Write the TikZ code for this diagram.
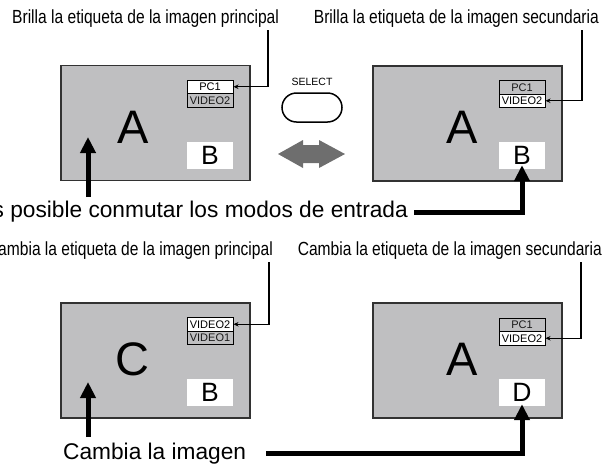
\documentclass[tikz,border=0pt]{standalone}
\usepackage{fontspec}
\setmainfont{Liberation Sans}
\newfontfamily\narrowfont[FakeStretch=0.82]{Liberation Sans}
\usetikzlibrary{arrows.meta}
\definecolor{scr}{RGB}{191,191,193}
\definecolor{edge}{RGB}{50,50,50}
\definecolor{dbl}{RGB}{110,110,110}
\tikzset{
  screenbox/.style={draw=edge, fill=scr, line width=1.4pt, minimum width=189pt, minimum height=115pt, inner sep=0pt},
  lblw/.style={draw=black, fill=white, line width=1pt, minimum width=46pt, minimum height=13.5pt, inner sep=0pt, font=\fontsize{11}{11}\selectfont},
  lblg/.style={lblw, fill=scr, text=black!90},
  bigletter/.style={font=\fontsize{47}{47}\selectfont, inner sep=0pt},
  subpic/.style={fill=white, minimum width=46pt, minimum height=27pt, inner sep=0pt, font=\fontsize{26.5}{26.5}\selectfont},
  captxt/.style={font=\narrowfont\fontsize{19}{19}\selectfont, inner sep=0pt},
  bigcaptxt/.style={font=\fontsize{22.7}{22.7}\selectfont, inner sep=0pt},
  thinarrow/.style={draw=black, line width=1.1pt, -{Stealth[length=5pt,width=4.5pt]}},
  thickarrow/.style={draw=black, line width=5pt, -{Triangle[length=16pt,width=15pt]}},
}
\begin{document}
\begin{tikzpicture}[x=1pt,y=-1pt]
\useasboundingbox (0,0) rectangle (616,464);
% screens
\node[screenbox] (s1) at (155.5,123) {};
\node[screenbox] (s2) at (467.5,123.5) {};
\node[screenbox] (s3) at (155.5,360.5) {};
\node[screenbox] (s4) at (467.5,360.5) {};
% big letters
\node[bigletter] (A1) at (133,127) {A};
\node[bigletter] (A2) at (462,127) {A};
\node[bigletter] (C3) at (132,359) {C};
\node[bigletter] (A4) at (462,359) {A};
% sub pictures
\node[subpic] (b1) at (210,155.5) {B};
\node[subpic] (b2) at (522,155.5) {B};
\node[subpic] (b3) at (210,392.5) {B};
\node[subpic] (d4) at (522,392.5) {D};
% labels
\node[lblw] (l1a) at (210,86.75) {PC1};
\node[lblg] (l1b) at (210,100.25) {VIDEO2};
\node[lblg] (l2a) at (522,87.25) {PC1};
\node[lblw] (l2b) at (522,100.75) {VIDEO2};
\node[lblw] (l3a) at (210,324.25) {VIDEO2};
\node[lblg] (l3b) at (210,337.75) {VIDEO1};
\node[lblg] (l4a) at (522,324.75) {PC1};
\node[lblw] (l4b) at (522,338.25) {VIDEO2};
% captions
\node[captxt, anchor=base west] (t1) at (12,23) {Brilla la etiqueta de la imagen principal};
\node[captxt, anchor=base east] (t2) at (599,23) {Brilla la etiqueta de la imagen secundaria};
\node[captxt, anchor=base east] (t3) at (273,255) {Cambia la etiqueta de la imagen principal};
\node[captxt, anchor=base east] (t4) at (602,255) {Cambia la etiqueta de la imagen secundaria};
\node[bigcaptxt, anchor=base east] (t5) at (408,217) {Es posible conmutar los modos de entrada};
\node[bigcaptxt, anchor=base west] (t6) at (63,459) {Cambia la imagen};
% select button
\node[font=\fontsize{10.5}{10.5}\selectfont, inner sep=0pt] (sel) at (312,82) {SELECT};
\node[draw=black, line width=1.5pt, rounded corners=14.5pt, minimum width=60pt, minimum height=29pt, inner sep=0pt] (btn) at (312,107.5) {};
% double arrow
\fill[dbl] (278,154) -- (303,140) -- (303,145) -- (319,145) -- (319,140) -- (345,154)
  -- (319,168) -- (319,163) -- (303,163) -- (303,168) -- cycle;
% thin connectors
\coordinate (k1) at (268,30);
\coordinate (k2) at (582,30);
\coordinate (k3) at (269,262);
\coordinate (k4) at (581,262);
\draw[thinarrow] (k1) |- (l1a.east);
\draw[thinarrow] (k2) |- (l2b.east);
\draw[thinarrow] (k3) |- (l3a.east);
\draw[thinarrow] (k4) |- (l4b.east);
% thick arrows
\coordinate (u1) at (88,197);
\coordinate (u1t) at (88,137);
\coordinate (u3) at (88,437);
\coordinate (u3t) at (88,382);
\draw[thickarrow] (u1) -- (u1t);
\draw[thickarrow] (u3) -- (u3t);
\coordinate (c1) at (414,212.5);
\coordinate (c2) at (266,453);
\draw[thickarrow] (c1) -| ([yshift=4pt]b2.south);
\draw[thickarrow] (c2) -| ([yshift=2pt]d4.south);
\end{tikzpicture}
\end{document}
